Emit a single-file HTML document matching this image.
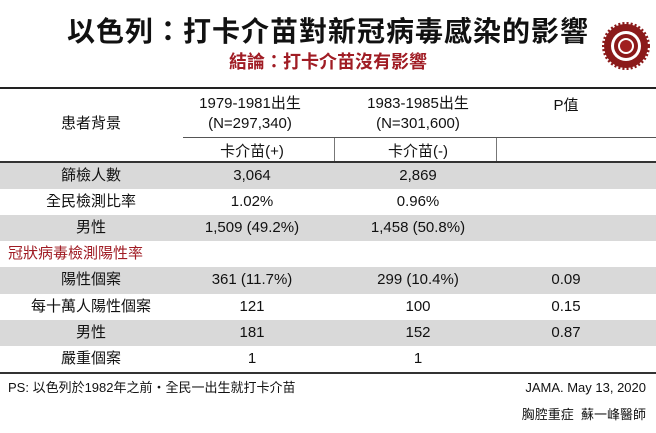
<!DOCTYPE html>
<html><head><meta charset="utf-8">
<style>
body{margin:0;width:656px;height:433px;background:#fff;overflow:hidden;position:relative;font-family:"Liberation Sans","Noto Sans CJK TC",sans-serif;color:#111}
.a{position:absolute;white-space:nowrap}
.c{transform:translateX(-50%);text-align:center}
.row{position:absolute;left:0;width:656px;height:26px}
.g{background:#d9d9d9}
.t{position:absolute;font-size:15px;line-height:26px;transform:translateX(-50%);white-space:nowrap}
</style></head><body>
<div class="a c" style="left:328px;top:10px;font-size:28px;font-weight:bold;letter-spacing:1px">以色列：打卡介苗對新冠病毒感染的影響</div>
<div class="a c" style="left:328px;top:48px;font-size:18px;font-weight:bold;color:#a01c24">結論：打卡介苗沒有影響</div>
<svg class="a" style="left:600px;top:18px" width="52" height="56" viewBox="0 0 52 56">
<circle cx="26" cy="28" r="22" fill="#8b1a1a" stroke="#8b1a1a" stroke-width="4" stroke-dasharray="2 2"/>
<circle cx="26" cy="28" r="15" fill="#fff"/>
<circle cx="26" cy="28" r="12" fill="#8b1a1a"/>
<circle cx="26" cy="28" r="8" fill="#fff"/>
<circle cx="26" cy="28" r="6" fill="#a02020"/>
</svg>
<div class="a" style="left:0;top:87px;width:656px;height:2px;background:#222"></div>
<div class="a c" style="left:91px;top:112px;font-size:15px">患者背景</div>
<div class="a c" style="left:250px;top:94px;font-size:15px;line-height:20px">1979-1981出生<br>(N=297,340)</div>
<div class="a c" style="left:418px;top:94px;font-size:15px;line-height:20px">1983-1985出生<br>(N=301,600)</div>
<div class="a c" style="left:566px;top:94px;font-size:15px">P值</div>
<div class="a" style="left:183px;top:137px;width:473px;height:1px;background:#555"></div>
<div class="a" style="left:334px;top:138px;width:1px;height:24px;background:#777"></div>
<div class="a" style="left:496px;top:138px;width:1px;height:24px;background:#777"></div>
<div class="a c" style="left:252px;top:140px;font-size:15px">卡介苗(+)</div>
<div class="a c" style="left:418px;top:140px;font-size:15px">卡介苗(-)</div>
<div class="a" style="left:0;top:161px;width:656px;height:2px;background:#333"></div>

<div class="row g" style="top:163px"><span class="t" style="left:91px">篩檢人數</span><span class="t" style="left:252px">3,064</span><span class="t" style="left:418px">2,869</span></div>
<div class="row" style="top:189px"><span class="t" style="left:91px">全民檢測比率</span><span class="t" style="left:252px">1.02%</span><span class="t" style="left:418px">0.96%</span></div>
<div class="row g" style="top:215px"><span class="t" style="left:91px">男性</span><span class="t" style="left:252px">1,509 (49.2%)</span><span class="t" style="left:418px">1,458 (50.8%)</span></div>
<div class="row" style="top:241px"><span class="t" style="left:8px;transform:none;color:#a01c24">冠狀病毒檢測陽性率</span></div>
<div class="row g" style="top:267px;height:27px"><span class="t" style="left:91px">陽性個案</span><span class="t" style="left:252px">361 (11.7%)</span><span class="t" style="left:418px">299 (10.4%)</span><span class="t" style="left:566px">0.09</span></div>
<div class="row" style="top:294px"><span class="t" style="left:91px">每十萬人陽性個案</span><span class="t" style="left:252px">121</span><span class="t" style="left:418px">100</span><span class="t" style="left:566px">0.15</span></div>
<div class="row g" style="top:320px"><span class="t" style="left:91px">男性</span><span class="t" style="left:252px">181</span><span class="t" style="left:418px">152</span><span class="t" style="left:566px">0.87</span></div>
<div class="row" style="top:346px"><span class="t" style="left:91px">嚴重個案</span><span class="t" style="left:252px">1</span><span class="t" style="left:418px">1</span></div>
<div class="a" style="left:0;top:372px;width:656px;height:2px;background:#333"></div>
<div class="a" style="left:8px;top:377px;font-size:13px">PS: 以色列於1982年之前・全民一出生就打卡介苗</div>
<div class="a" style="right:10px;top:380px;font-size:13px">JAMA. May 13, 2020</div>
<div class="a" style="right:10px;top:404px;font-size:13px">胸腔重症&nbsp; 蘇一峰醫師</div>
</body></html>
